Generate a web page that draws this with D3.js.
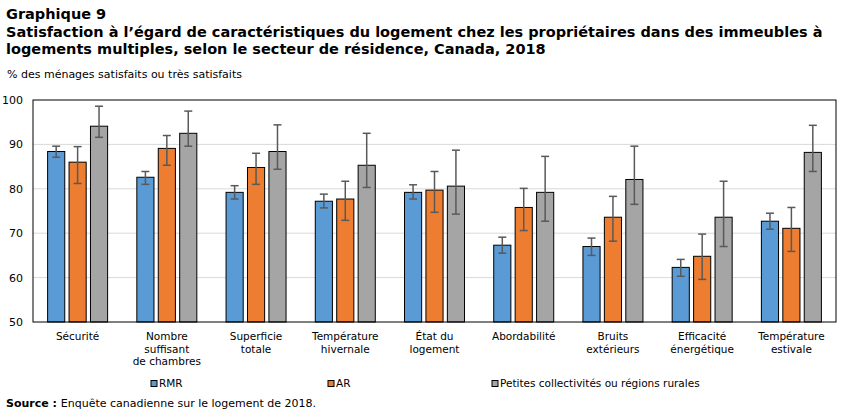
<!DOCTYPE html>
<html><head><meta charset="utf-8">
<script src="https://cdn.jsdelivr.net/npm/d3@7"></script>
<style>
body{margin:0;background:#fff;}
svg text{font-family:"DejaVu Sans",Verdana,sans-serif;fill:#000;}
</style></head>
<body><svg id="c" width="851" height="416"></svg>
<script>
const categories = [["Sécurité"],["Nombre","suffisant","de chambres"],["Superficie","totale"],["Température","hivernale"],["État du","logement"],["Abordabilité"],["Bruits","extérieurs"],["Efficacité","énergétique"],["Température","estivale"]];
const seriesNames = ["RMR","AR","Petites collectivités ou régions rurales"];
const rmr   = [88.4, 82.6, 79.2, 77.2, 79.2, 67.3, 67.0, 62.3, 72.7];
const rmrLo = [87.1, 81.0, 77.7, 75.7, 77.7, 65.5, 65.0, 60.3, 70.9];
const rmrHi = [89.6, 83.9, 80.7, 78.8, 80.9, 69.1, 68.9, 64.1, 74.5];
const ar    = [86.0, 89.1, 84.8, 77.7, 79.7, 75.8, 73.6, 64.8, 71.1];
const arLo  = [81.2, 85.3, 81.0, 72.9, 74.7, 70.6, 68.2, 59.6, 65.9];
const arHi  = [89.5, 92.0, 88.0, 81.7, 83.9, 80.1, 78.3, 69.8, 75.8];
const rur   = [94.1, 92.5, 88.4, 85.3, 80.6, 79.2, 82.1, 73.6, 88.2];
const rurLo = [91.6, 89.6, 84.4, 80.3, 74.3, 72.7, 76.5, 67.0, 83.9];
const rurHi = [98.6, 97.5, 94.4, 92.5, 88.7, 87.3, 89.6, 81.7, 94.3];
const yTicks = [50, 60, 70, 80, 90, 100];
const colors = ["#5b9bd5","#ed7d31","#a5a5a5"];

const series = [
  {name: seriesNames[0], v: rmr, lo: rmrLo, hi: rmrHi},
  {name: seriesNames[1], v: ar, lo: arLo, hi: arHi},
  {name: seriesNames[2], v: rur, lo: rurLo, hi: rurHi}
];

const svg = d3.select("#c");
const L = 33, R = 836, T = 100, B = 322;
const x = d3.scaleBand().domain(d3.range(categories.length)).range([L, R]);
const xs = d3.scaleBand().domain(d3.range(3)).range([-30, 30]).paddingInner(0.2);
const y = d3.scaleLinear().domain([50, 100]).range([B, T]);

// titles
const tf = 14.5;
svg.append("text").attr("x", 6).attr("y", 19).attr("font-weight", "bold").attr("font-size", tf).text("Graphique 9");
svg.append("text").attr("x", 6).attr("y", 37).attr("font-weight", "bold").attr("font-size", tf)
  .text("Satisfaction à l’égard de caractéristiques du logement chez les propriétaires dans des immeubles à");
svg.append("text").attr("x", 6).attr("y", 54).attr("font-weight", "bold").attr("font-size", tf)
  .text("logements multiples, selon le secteur de résidence, Canada, 2018");
svg.append("text").attr("x", 7).attr("y", 78).attr("font-size", 11).text("% des ménages satisfaits ou très satisfaits");

// grid
svg.append("g").selectAll("line").data(yTicks.filter(d => d > 50 && d < 100)).join("line")
  .attr("x1", L).attr("x2", R).attr("y1", d => y(d)).attr("y2", d => y(d))
  .attr("stroke", "#d9d9d9").attr("stroke-width", 1);

// y axis labels
const ya = svg.append("g").attr("transform", `translate(${L},0)`)
  .call(d3.axisLeft(y).tickValues(yTicks).tickSize(0).tickPadding(10));
ya.select(".domain").remove();
ya.selectAll("text").attr("font-size", 11).attr("fill", "#000").attr("font-family", "DejaVu Sans");

// bars
const g = svg.append("g");
series.forEach((s, si) => {
  const gg = g.append("g");
  gg.selectAll("rect").data(s.v).join("rect")
    .attr("x", (d, i) => x(i) + x.bandwidth() / 2 + xs(si))
    .attr("width", xs.bandwidth())
    .attr("y", d => y(d))
    .attr("height", d => y(50) - y(d))
    .attr("fill", colors[si]).attr("stroke", "#000").attr("stroke-width", 1);
  const eg = gg.append("g").attr("stroke", "#595959").attr("stroke-width", 1.5);
  s.v.forEach((d, i) => {
    const cx = x(i) + x.bandwidth() / 2 + xs(si) + xs.bandwidth() / 2;
    eg.append("line").attr("x1", cx).attr("x2", cx).attr("y1", y(s.lo[i])).attr("y2", y(s.hi[i]));
    eg.append("line").attr("x1", cx - 4).attr("x2", cx + 4).attr("y1", y(s.lo[i])).attr("y2", y(s.lo[i]));
    eg.append("line").attr("x1", cx - 4).attr("x2", cx + 4).attr("y1", y(s.hi[i])).attr("y2", y(s.hi[i]));
  });
});

// frame
svg.append("rect").attr("x", L).attr("y", T).attr("width", R - L).attr("height", B - T)
  .attr("fill", "none").attr("stroke", "#000").attr("stroke-width", 1);

// x labels
categories.forEach((lines, i) => {
  const t = svg.append("text").attr("text-anchor", "middle").attr("font-size", 10.5)
    .attr("x", x(i) + x.bandwidth() / 2).attr("y", 340);
  lines.forEach((ln, k) => t.append("tspan").attr("x", x(i) + x.bandwidth() / 2).attr("dy", k ? 12.5 : 0).text(ln));
});

// legend
const legX = [151, 328, 492];
series.forEach((s, si) => {
  svg.append("rect").attr("x", legX[si]).attr("y", 380.5).attr("width", 6).attr("height", 6)
    .attr("fill", colors[si]).attr("stroke", "#000").attr("stroke-width", 1);
  svg.append("text").attr("x", legX[si] + 8).attr("y", 387).attr("font-size", 10.5).text(s.name);
});

// source
const src = svg.append("text").attr("x", 6).attr("y", 407).attr("font-size", 11);
src.append("tspan").attr("font-weight", "bold").text("Source : ");
src.append("tspan").text("Enquête canadienne sur le logement de 2018.");
</script></body></html>
